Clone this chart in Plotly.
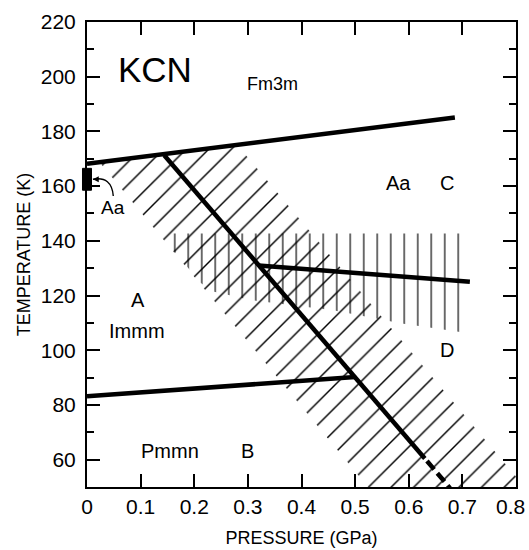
import plotly.graph_objects as go

# ---- phase boundaries (pressure in GPa, temperature in K) ----
top_p = [0.0, 0.686]
top_t = [168.2, 185.1]
steep_p = [0.144, 0.630]
steep_t = [171.3, 60.4]
steep_dash_p = [0.634, 0.677]
steep_dash_t = [59.5, 49.6]
mid_p = [0.320, 0.714]
mid_t = [131.0, 125.0]
low_p = [0.0, 0.500]
low_t = [83.2, 90.2]

# ---- hysteresis (hatched) regions ----
diag_p = [0.023, 0.280, 0.800, 0.800, 0.524, 0.023]
diag_t = [168.8, 175.1, 53.8, 50.0, 50.0, 168.8]
vert_p = [0.157, 0.712, 0.712, 0.587, 0.459, 0.310, 0.235, 0.211, 0.157, 0.157]
vert_t = [142.7, 142.7, 106.2, 109.8, 114.6, 118.2, 121.5, 124.8, 137.6, 142.7]

# ---- Aa phase at ambient pressure ----
aa_t = [158.5, 166.5]

# ---- region labels ----
label_text = ["KCN", "Fm3m", "Aa", "C", "Aa", "A", "Immm", "D", "Pmmn", "B"]
label_p = [0.127, 0.345, 0.580, 0.671, 0.049, 0.095, 0.094, 0.671, 0.155, 0.300]
label_t = [202.5, 197.3, 161.2, 161.2, 152.3, 118.4, 107.1, 100.1, 63.2, 63.2]
label_size = [35, 18, 20, 20, 19, 20, 20, 20, 20, 20]

# tick labels (the last pressure label sits at the right edge and is drawn separately)
x_ticks = [0, 0.1, 0.2, 0.3, 0.4, 0.5, 0.6, 0.7, 0.8]
x_tick_text = ["0", "0.1", "0.2", "0.3", "0.4", "0.5", "0.6", "0.7", ""]
x_last_label = "0.8"

# curved pointer from the small "Aa" label to the ambient-pressure bar
ptr_p = [0.049, 0.046, 0.011]
ptr_t = [156.4, 163.8, 162.5]

FONT = "Liberation Sans, Arial, sans-serif"

fig = go.Figure()

# hatched regions
fig.add_trace(go.Scatter(
    x=diag_p, y=diag_t, mode="lines", fill="toself",
    line=dict(width=0, color="rgba(0,0,0,0)"),
    fillcolor="rgba(0,0,0,0)",
    fillpattern=dict(shape="/", size=16, solidity=0.09, fgcolor="black",
                     fgopacity=1, bgcolor="rgba(0,0,0,0)"),
    hoverinfo="skip"))
fig.add_trace(go.Scatter(
    x=vert_p, y=vert_t, mode="lines", fill="toself",
    line=dict(width=0, color="rgba(0,0,0,0)"),
    fillcolor="rgba(0,0,0,0)",
    fillpattern=dict(shape="|", size=13.5, solidity=0.085, fgcolor="black",
                     fgopacity=1, bgcolor="rgba(0,0,0,0)"),
    hoverinfo="skip"))

# phase boundary lines
for px, ty in [(top_p, top_t), (steep_p, steep_t), (mid_p, mid_t), (low_p, low_t)]:
    fig.add_trace(go.Scatter(x=px, y=ty, mode="lines",
                             line=dict(color="black", width=4.5)))
fig.add_trace(go.Scatter(x=steep_dash_p, y=steep_dash_t, mode="lines",
                         line=dict(color="black", width=4.5, dash="11px,5px")))

# Aa bar on the temperature axis
fig.add_shape(type="rect", xref="paper", yref="y",
              x0=-0.0105, x1=0.0105, y0=aa_t[0], y1=aa_t[1],
              fillcolor="black", line=dict(color="black", width=1), layer="above")

# curved pointer
fig.add_shape(type="path", xref="x", yref="y",
              path=f"M {ptr_p[0]},{ptr_t[0]} Q {ptr_p[1]},{ptr_t[1]} {ptr_p[2]},{ptr_t[2]}",
              line=dict(color="black", width=1.4))
fig.add_annotation(x=ptr_p[2], y=ptr_t[2], xref="x", yref="y", text="",
                   showarrow=True, ax=7, ay=0, arrowhead=2, arrowsize=0.9,
                   arrowwidth=1.3, arrowcolor="black")

for txt, px, ty, sz in zip(label_text, label_p, label_t, label_size):
    fig.add_annotation(x=px, y=ty, xref="x", yref="y", text=txt, showarrow=False,
                       xanchor="center", yanchor="middle",
                       font=dict(size=sz, family=FONT, color="black"))

# last pressure tick label, kept inside the picture
fig.add_annotation(x=x_ticks[-1], y=0, xref="x", yref="paper", text=x_last_label,
                   showarrow=False, xanchor="right", yanchor="middle",
                   xshift=11, yshift=-19,
                   font=dict(size=21, family=FONT, color="black"))

fig.update_layout(
    width=529, height=550,
    margin=dict(l=87, r=13, t=22, b=63),
    plot_bgcolor="white", paper_bgcolor="white",
    showlegend=False,
    font=dict(family=FONT, color="black"),
)
fig.update_xaxes(
    range=[0, 0.8], tickmode="array", tickvals=x_ticks, ticktext=x_tick_text,
    ticks="inside", ticklen=13, tickwidth=1.5, tickcolor="black",
    showline=True, linewidth=2, linecolor="black", mirror="allticks",
    showgrid=False, zeroline=False, ticklabelstandoff=0,
    ticklabeloverflow="allow", automargin=False,
    tickfont=dict(size=21, family=FONT, color="black"),
    title=dict(text="PRESSURE (GPa)", font=dict(size=18, family=FONT, color="black"),
               standoff=14),
)
fig.update_yaxes(
    range=[50, 220], tick0=0, dtick=20,
    ticks="inside", ticklen=13, tickwidth=1.5, tickcolor="black",
    minor=dict(dtick=10, ticks="inside", ticklen=7, tickwidth=1.5,
               tickcolor="black", showgrid=False),
    showline=True, linewidth=2, linecolor="black", mirror="allticks",
    showgrid=False, zeroline=False, ticklabelstandoff=5,
    ticklabeloverflow="allow", automargin=False,
    tickfont=dict(size=21, family=FONT, color="black"),
    title=dict(text="TEMPERATURE (K)", font=dict(size=18, family=FONT, color="black"),
               standoff=5),
)

fig.write_html("out.html", config={"displayModeBar": False},
               post_script="document.body.style.margin='0px';document.body.style.overflow='hidden';")
